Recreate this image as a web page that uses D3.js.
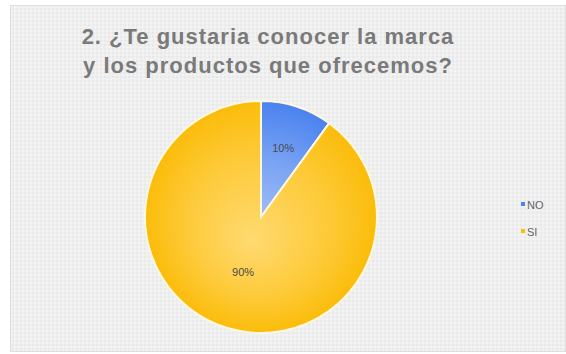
<!DOCTYPE html>
<html><head><meta charset="utf-8">
<script src="https://cdn.jsdelivr.net/npm/d3@7"></script>
<style>body{margin:0;background:#fff;}svg{display:block;}</style>
</head><body>
<script>
const categories = ["NO", "SI"];
const values = [10, 90];
const labels = ["10%", "90%"];
const titleLines = ["2. ¿Te gustaria conocer la marca", "y los productos que ofrecemos?"];
const colors = ["#4a82ef", "#fbbc0a"];
const centerColors = ["#b0c8f8", "#ffda72"];

const W = 566, H = 354;
const svg = d3.select("body").append("svg").attr("width", W).attr("height", H);
const defs = svg.append("defs");
const pat = defs.append("pattern").attr("id", "tex").attr("width", 4).attr("height", 4).attr("patternUnits", "userSpaceOnUse");
pat.append("rect").attr("width", 4).attr("height", 4).attr("fill", "#efefef");
pat.append("rect").attr("width", 2).attr("height", 2).attr("fill", "#e9e9e9");
pat.append("rect").attr("x", 2).attr("y", 2).attr("width", 2).attr("height", 2).attr("fill", "#f3f3f3");

svg.append("rect").attr("x", 10.5).attr("y", 5.5).attr("width", W - 11).attr("height", H - 8)
  .attr("fill", "url(#tex)").attr("stroke", "#dedede");

const cx = 261, cy = 217, r = 116;
categories.forEach((c, i) => {
  const g = defs.append("radialGradient").attr("id", "g" + i)
    .attr("gradientUnits", "userSpaceOnUse").attr("cx", 0).attr("cy", 0).attr("r", r)
    .attr("fx", -10).attr("fy", 25);
  g.append("stop").attr("offset", "0%").attr("stop-color", centerColors[i]);
  g.append("stop").attr("offset", "60%").attr("stop-color", d3.interpolateRgb(centerColors[i], colors[i])(0.55));
  g.append("stop").attr("offset", "100%").attr("stop-color", colors[i]);
});

const pie = d3.pie().sort(null).value(d => d)(values);
const arc = d3.arc().innerRadius(0).outerRadius(r);
const g = svg.append("g").attr("transform", `translate(${cx},${cy})`);
g.selectAll("path").data(pie).join("path")
  .attr("d", arc).attr("fill", (d, i) => `url(#g${i})`)
  .attr("stroke", "#fff8e0").attr("stroke-width", 2);

g.selectAll("text.lbl").data(pie).join("text").attr("class", "lbl")
  .attr("transform", (d, i) => {
    const a = d3.arc().innerRadius(r * [0.62, 0.5][i]).outerRadius(r * [0.62, 0.5][i]);
    return `translate(${a.centroid(d)})`;
  })
  .attr("text-anchor", "middle").attr("dy", "0.35em")
  .style("font-family", "Liberation Sans, Arial, sans-serif").style("font-size", "11px")
  .attr("fill", "#4a4a4a").text((d, i) => labels[i]);

svg.selectAll("text.title").data(titleLines).join("text").attr("class", "title")
  .attr("x", 268).attr("y", (d, i) => 44 + i * 29).attr("text-anchor", "middle")
  .style("font-family", "Liberation Sans, Arial, sans-serif").style("font-size", "22px")
  .style("letter-spacing", "1px")
  .style("font-weight", "bold").attr("fill", "#7a7a7a").text(d => d);

const leg = svg.selectAll("g.leg").data(categories).join("g").attr("class", "leg")
  .attr("transform", (d, i) => `translate(521,${205 + i * 27})`);
leg.append("rect").attr("x", 0).attr("y", -3).attr("width", 4).attr("height", 4)
  .attr("fill", (d, i) => colors[i]);
leg.append("text").attr("x", 6).attr("y", 0).attr("dy", "0.35em")
  .style("font-family", "Liberation Sans, Arial, sans-serif").style("font-size", "11px")
  .attr("fill", "#666").text(d => d);
</script>
</body></html>
